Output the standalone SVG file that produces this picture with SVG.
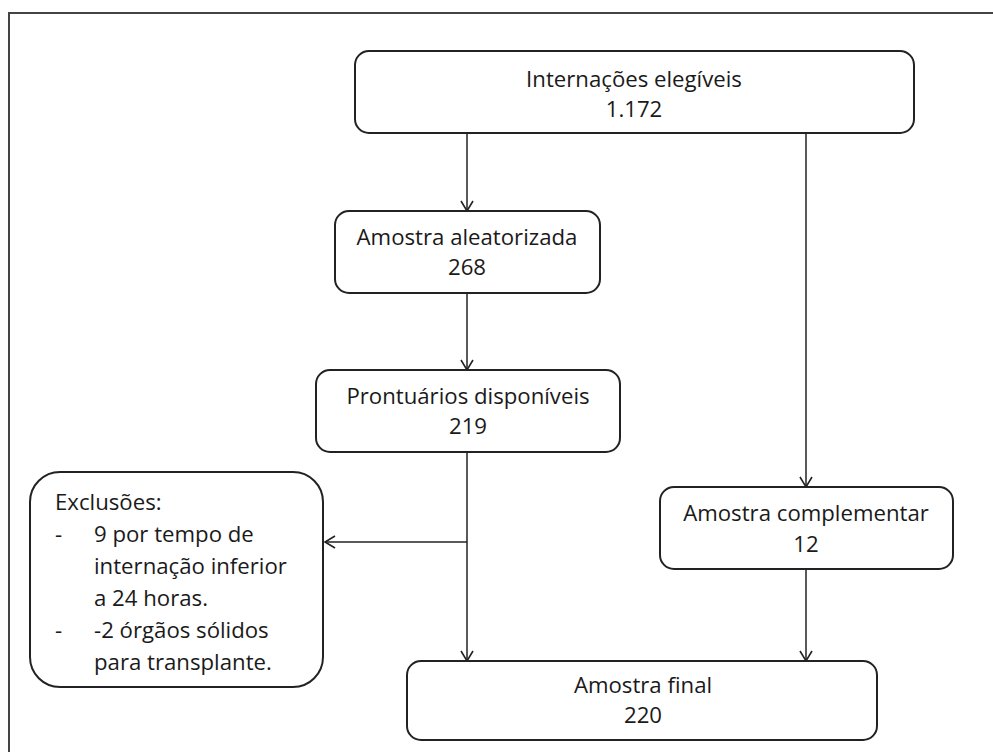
<svg xmlns="http://www.w3.org/2000/svg" width="993" height="752" viewBox="0 0 993 752">
<defs>
<marker id="arr" markerWidth="14" markerHeight="14" refX="12" refY="7" orient="auto" markerUnits="userSpaceOnUse">
<path d="M2,1 L12,7 L2,13" fill="none" stroke="#222" stroke-width="1.6"/>
</marker>
<style>
.box{fill:#fff;stroke:#222;stroke-width:2}
.t{font-family:"Open Sans",Lato,sans-serif;font-size:22.2px;fill:#1a1a1a;text-anchor:middle}
.l{font-family:"Open Sans",Lato,sans-serif;font-size:22.2px;fill:#1a1a1a}
.c{fill:none;stroke:#222;stroke-width:1.5}
</style>
</defs>
<rect width="993" height="752" fill="#fff"/>
<path d="M9,752 L9,13 L993,13" fill="none" stroke="#444" stroke-width="2"/>
<g id="connectors">
<line class="c" x1="467" y1="133" x2="467" y2="211" marker-end="url(#arr)"/>
<line class="c" x1="806" y1="133" x2="806" y2="487" marker-end="url(#arr)"/>
<line class="c" x1="467" y1="293" x2="467" y2="370" marker-end="url(#arr)"/>
<line class="c" x1="467" y1="452" x2="467" y2="661" marker-end="url(#arr)"/>
<line class="c" x1="467" y1="542" x2="325" y2="542" marker-end="url(#arr)"/>
<line class="c" x1="806" y1="569" x2="806" y2="661" marker-end="url(#arr)"/>
</g>
<g id="n-elegiveis">
<rect class="box" x="355" y="51" width="559" height="82" rx="14"/>
<text class="t" x="634" y="87">Internações elegíveis</text>
<text class="t" x="634" y="117">1.172</text>
</g>
<g id="n-aleatorizada">
<rect class="box" x="335" y="211" width="265" height="82" rx="14"/>
<text class="t" x="467" y="245">Amostra aleatorizada</text>
<text class="t" x="467" y="275">268</text>
</g>
<g id="n-prontuarios">
<rect class="box" x="316" y="370" width="304" height="82" rx="14"/>
<text class="t" x="468" y="404">Prontuários disponíveis</text>
<text class="t" x="468" y="434">219</text>
</g>
<g id="n-exclusoes">
<rect class="box" x="30" y="472" width="293" height="215" rx="30"/>
<text class="l" x="55" y="510">Exclusões:</text>
<text class="l" x="55" y="542">-</text>
<text class="l" x="94" y="542">9 por tempo de</text>
<text class="l" x="94" y="574">internação inferior</text>
<text class="l" x="94" y="606">a 24 horas.</text>
<text class="l" x="55" y="638">-</text>
<text class="l" x="94" y="638">-2 órgãos sólidos</text>
<text class="l" x="94" y="670">para transplante.</text>
</g>
<g id="n-complementar">
<rect class="box" x="660" y="487" width="293" height="82" rx="14"/>
<text class="t" x="806" y="521">Amostra complementar</text>
<text class="t" x="806" y="552">12</text>
</g>
<g id="n-final">
<rect class="box" x="407" y="661" width="470" height="79" rx="14"/>
<text class="t" x="643" y="693">Amostra final</text>
<text class="t" x="643" y="723">220</text>
</g>
</svg>
